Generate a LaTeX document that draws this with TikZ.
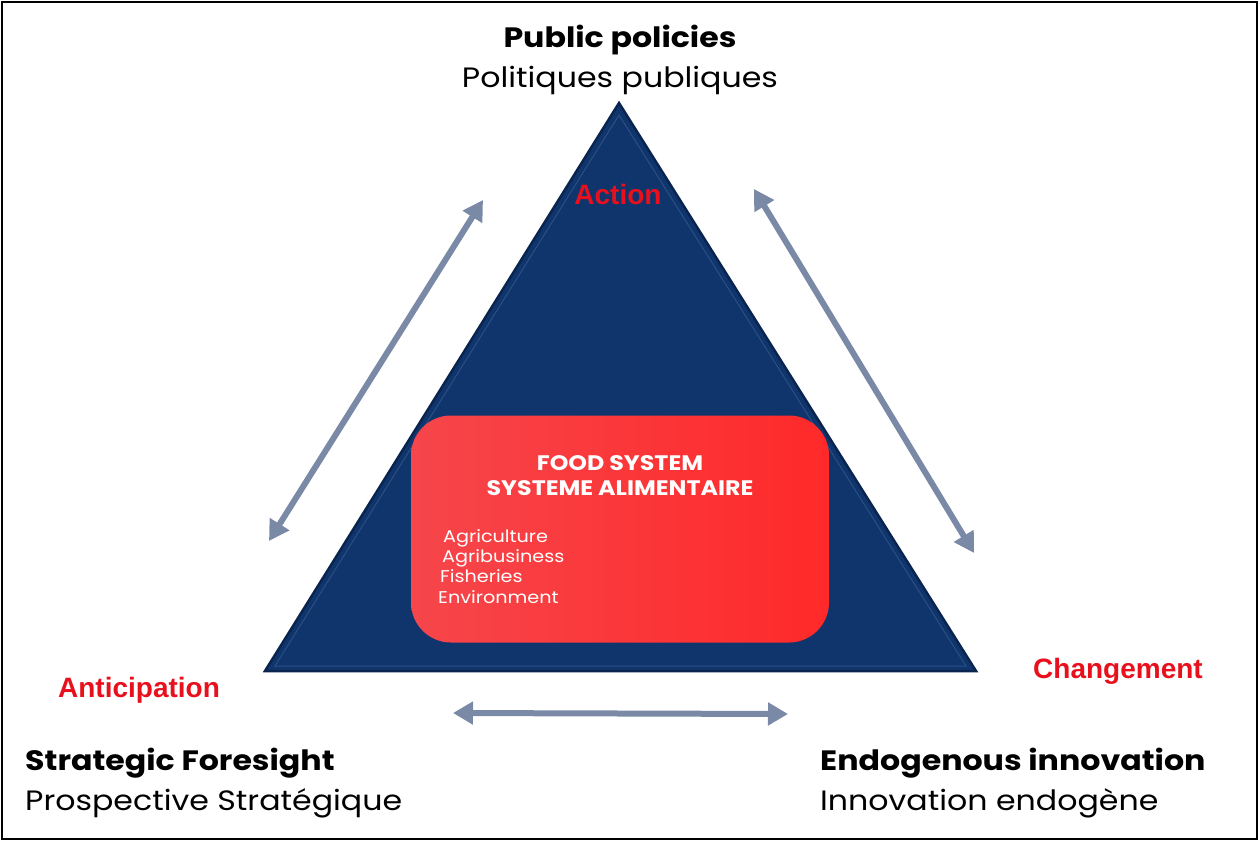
\documentclass[tikz,border=0pt]{standalone}
\usepackage{fontspec}
\setmainfont{Poppins}[FakeStretch=1.13]
\newfontfamily\labelfont{Liberation Sans}
\usetikzlibrary{arrows.meta}
\definecolor{navy}{HTML}{10356C}
\definecolor{navyedge}{HTML}{0A2450}
\definecolor{navylight}{HTML}{2A4F85}
\definecolor{redleft}{HTML}{F6464B}
\definecolor{redright}{HTML}{FF2929}
\definecolor{arrowgrey}{HTML}{7A8AA6}
\definecolor{labelred}{HTML}{E8101C}
\tikzset{
  title/.style={font=\fontsize{28}{30}\selectfont\bfseries, anchor=base},
  subtitle/.style={font=\fontsize{28}{30}\selectfont, anchor=base},
  keyword/.style={font=\labelfont\fontsize{28}{30}\selectfont\bfseries, text=labelred, anchor=base},
  boxhead/.style={font=\fontsize{21}{23}\selectfont\bfseries, text=white, anchor=base},
  boxitem/.style={font=\fontsize{17}{19}\selectfont, text=white, anchor=base west, inner sep=0pt},
  linkarrow/.style={draw=arrowgrey, line width=6pt, {Triangle[width=22pt,length=20pt]}-{Triangle[width=22pt,length=20pt]}},
}
\begin{document}
\begin{tikzpicture}[x=1pt,y=-1pt]
\useasboundingbox (0,0) rectangle (1259,841);
% outer frame
\draw[line width=2.5pt] (2,2) rectangle (1257,839);

% pyramid
\coordinate (apex) at (619,103);
\coordinate (bl) at (265,671);
\coordinate (br) at (976,671);
\fill[navy, draw=navyedge, line width=2.5pt, line join=miter] (apex) -- (bl) -- (br) -- cycle;
\draw[navylight, line width=1pt] (619,115) -- (275,666) -- (966,666) -- cycle;

% food system block
\node[rectangle, rounded corners=40pt, minimum width=418pt, minimum height=227pt,
      left color=redleft, right color=redright, inner sep=0pt] (food) at (620,529) {};
\node[boxhead] (fs1) at (620,470) {FOOD SYSTEM};
\node[boxhead] (fs2) at (620,495) {SYSTEME ALIMENTAIRE};
\node[boxitem] (s1) at (443,542) {Agriculture};
\node[boxitem] (s2) at (442,562) {Agribusiness};
\node[boxitem] (s3) at (440,582) {Fisheries};
\node[boxitem] (s4) at (438,603) {Environment};

% corner labels
\node[title] (pp) at (620,47) {Public policies};
\node[subtitle] (pp2) at (620,87) {Politiques publiques};
\node[title, anchor=base west, inner sep=0pt] (sf) at (25,770) {Strategic Foresight};
\node[subtitle, anchor=base west, inner sep=0pt] (sf2) at (25,810) {Prospective Stratégique};
\node[title, anchor=base west, inner sep=0pt] (ei) at (820,770) {Endogenous innovation};
\node[subtitle, anchor=base west, inner sep=0pt] (ei2) at (820,810) {Innovation endogène};

% keywords
\node[keyword] (action) at (618,204) {Action};
\node[keyword] (antic) at (139,697) {Anticipation};
\node[keyword] (change) at (1118,678) {Changement};

% relations
\coordinate (l1) at (269,541);
\coordinate (l2) at (483,200);
\coordinate (r1) at (754,189);
\coordinate (r2) at (974,553);
\coordinate (b1) at (453,713);
\coordinate (b2) at (788,714);
\draw[linkarrow] (l1) -- (l2);
\draw[linkarrow] (r1) -- (r2);
\draw[linkarrow] (b1) -- (b2);
\end{tikzpicture}
\end{document}
